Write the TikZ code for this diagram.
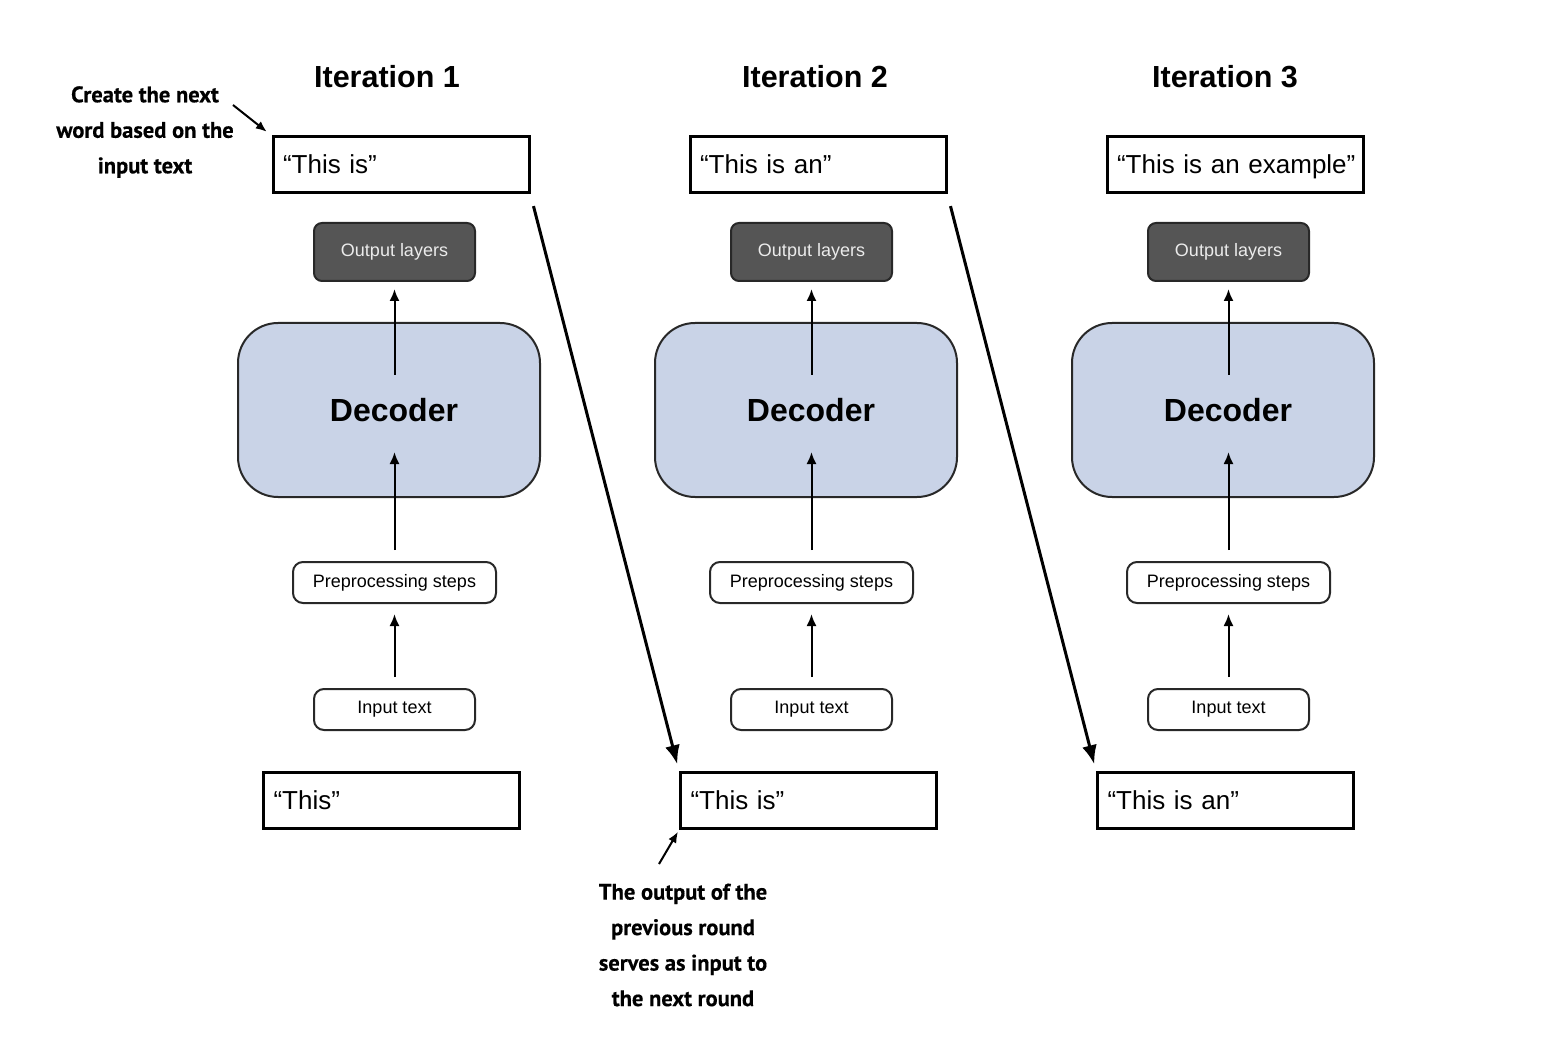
\documentclass[tikz,border=0pt]{standalone}
\usepackage{fontspec}
\setmainfont{Liberation Sans}
\newfontfamily\annfont[FakeBold=0.4]{PT Sans}
\usetikzlibrary{arrows.meta,calc}
\definecolor{decblue}{RGB}{201,211,231}
\definecolor{outgray}{RGB}{85,85,85}
\definecolor{edgegray}{RGB}{40,40,40}
\begin{document}
\begin{tikzpicture}[x=1pt,y=-1pt,
  title/.style={font=\fontsize{30.5}{36}\selectfont\bfseries},
  quotebox/.style={draw=black, line width=3pt, minimum height=56pt, text width=236pt, text height=21pt, text depth=3pt, inner xsep=10pt, align=left, font=\fontsize{26}{30}\selectfont},
  outbox/.style={draw=edgegray, fill=outgray, rounded corners=8pt, line width=2pt, minimum width=161pt, minimum height=58pt, text=white!92!black, font=\fontsize{18}{22}\selectfont},
  decbox/.style={draw=edgegray, fill=decblue, rounded corners=40pt, line width=2pt, minimum width=302pt, minimum height=174pt, font=\fontsize{32}{36}\selectfont\bfseries},
  roundbox/.style={draw=edgegray, fill=white, rounded corners=10pt, line width=2pt, minimum height=41pt, font=\fontsize{18}{22}\selectfont},
  flow/.style={-{Latex[length=12pt,width=10pt]}, line width=2pt},
  diag/.style={-{Latex[length=19pt,width=15pt]}, line width=3pt},
  notearrow/.style={-{Latex[length=11pt,width=9pt]}, line width=2pt},
  note/.style={font=\annfont\bfseries\fontsize{22.5}{35.5}\selectfont, align=center}]
\useasboundingbox (0,0) rectangle (1558,1048);

\node[title] (t1) at (387,77) {Iteration 1};
\node[title] (t2) at (815,77) {Iteration 2};
\node[title] (t3) at (1225,77) {Iteration 3};

\foreach \i/\dx/\toptxt/\bottxt in {1/0/{“This is”}/{“This”},2/417/{“This is an”}/{“This is”},3/834/{“This is an example”}/{“This is an”}}{
  \node[quotebox] (top\i) at (401+\dx,165) {\mbox{\toptxt}};
  \node[outbox] (out\i) at (394.5+\dx,252) {Output layers};
  \node[decbox] (dec\i) at (389+\dx,410) {\hspace{10pt}Decoder};
  \node[roundbox, minimum width=203pt] (pre\i) at (394.5+\dx,582.5) {Preprocessing steps};
  \node[roundbox, minimum width=161pt] (in\i) at (394.5+\dx,709.5) {Input text};
  \node[quotebox] (bot\i) at (391.5+\dx,800.5) {\mbox{\bottxt}};
  \draw[flow, shorten <=11pt, shorten >=10pt] (in\i.north) -- (pre\i.south);
  \draw[flow, shorten <=11pt, shorten >=42pt] (pre\i.north) -- (pre\i.north |- dec\i.center);
  \draw[flow, shorten <=35pt, shorten >=7pt] (out\i.south |- dec\i.center) -- (out\i.south);
}

\draw[diag, shorten <=12pt, shorten >=7pt] (top1.south east) -- (bot2.north west);
\draw[diag, shorten <=12pt, shorten >=7pt] (top2.south east) -- (bot3.north west);

\node[note] (ann1) at (145,132) {Create the next\\word based on the\\input text};
\coordinate (a1) at (233,105);
\draw[notearrow, shorten >=6pt] (a1) -- (top1.north west);

\node[note] (ann2) at (683,945) {The output of the\\previous round\\serves as input to\\the next round};
\coordinate (a2) at (659,864);
\draw[notearrow, shorten >=2pt] (a2) -- (bot2.south west);
\end{tikzpicture}
\end{document}
